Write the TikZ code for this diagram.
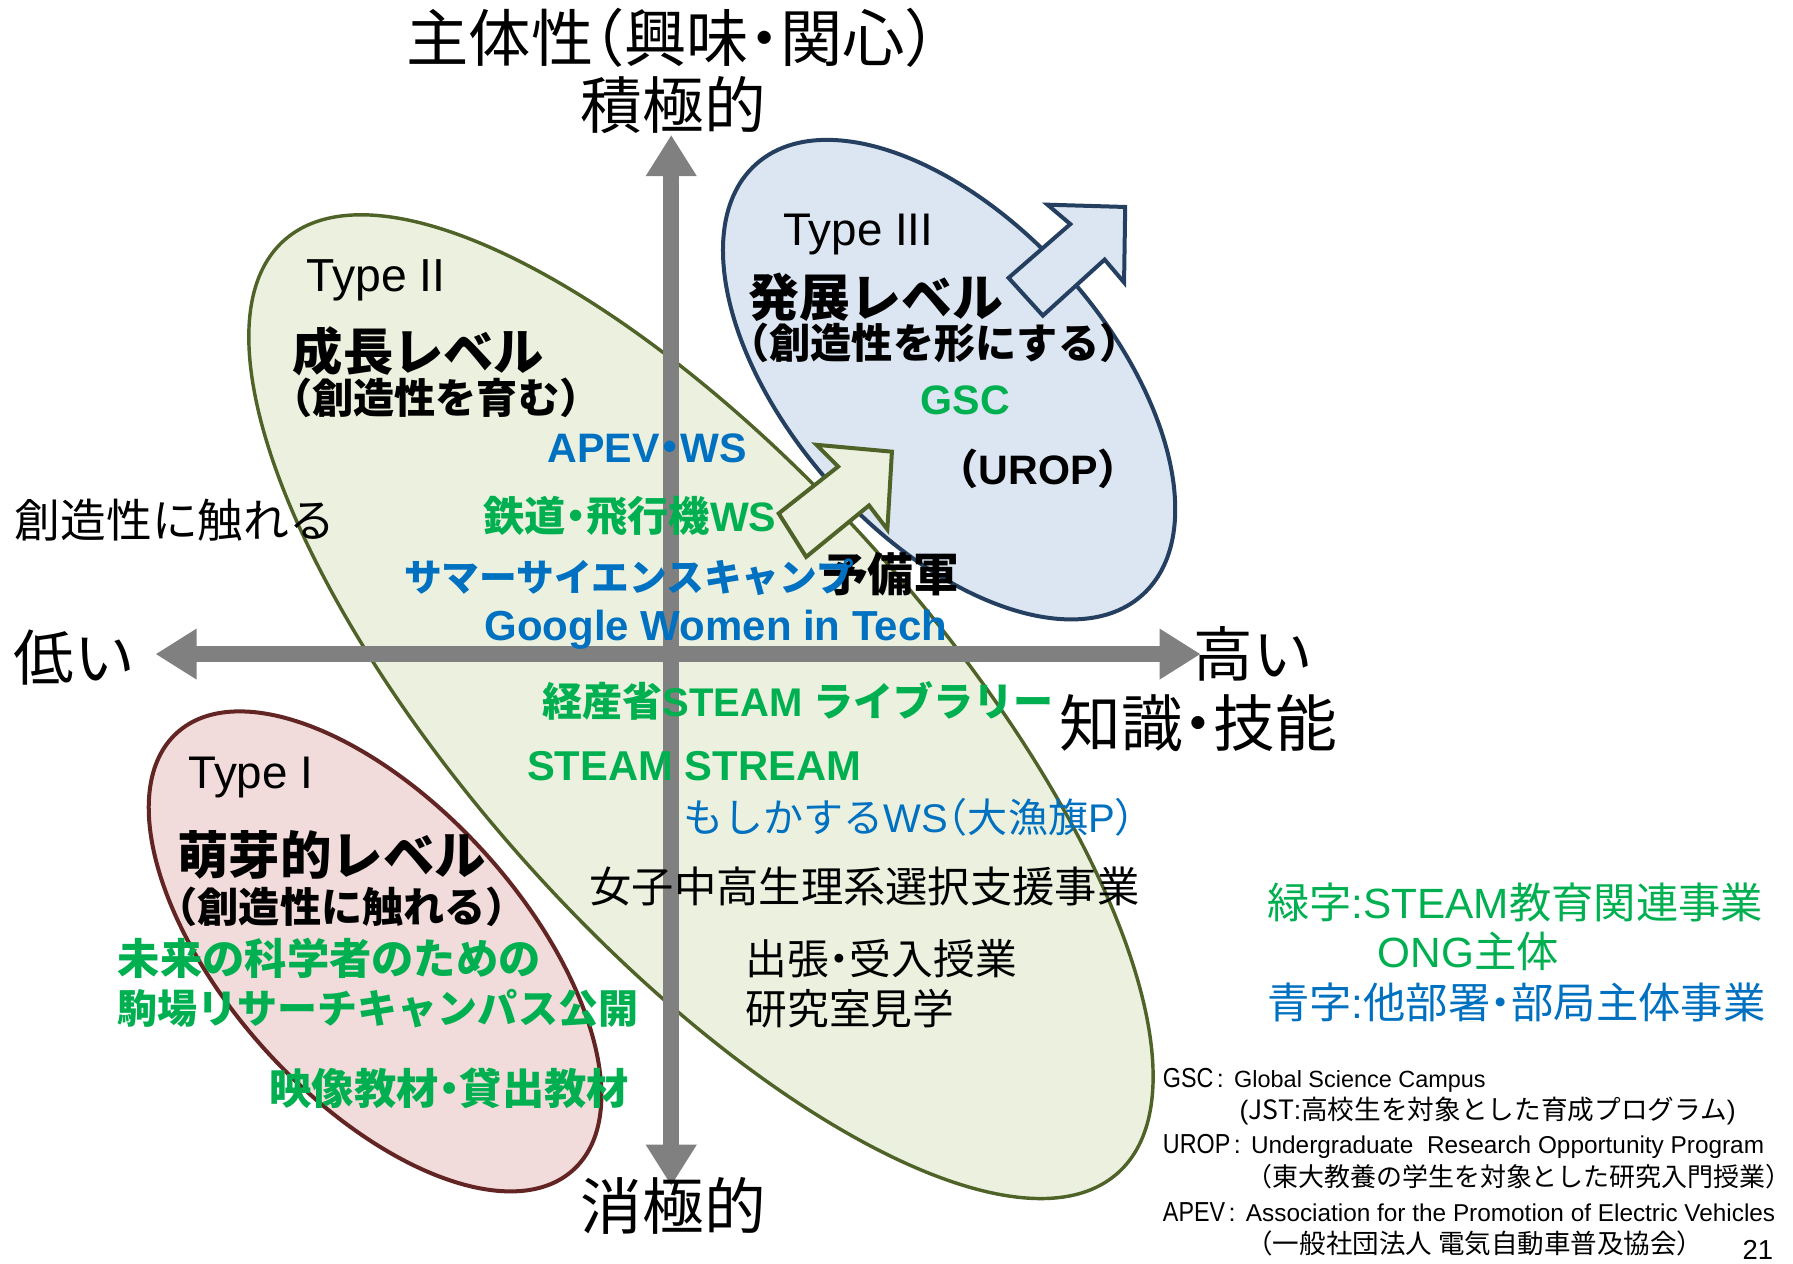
\documentclass[tikz,border=0pt]{standalone}
\usepackage{fontspec}
\usepackage{graphicx}
\usetikzlibrary{arrows.meta}
\setmainfont{Liberation Sans}
\newfontfamily\jp{Noto Sans CJK JP}[RawFeature={+halt}]
\newfontfamily\jpf{Noto Sans CJK JP}
\newcommand{\fsz}[1]{\fontsize{#1pt}{#1pt}\selectfont}
\newcommand{\nar}[1]{\scalebox{0.85}[1]{#1}}
\definecolor{gfill}{HTML}{EBF1DE}
\definecolor{gline}{HTML}{4F6228}
\definecolor{pfill}{HTML}{F2DCDB}
\definecolor{pline}{HTML}{632523}
\definecolor{bfill}{HTML}{DCE6F2}
\definecolor{bline}{HTML}{243F60}
\definecolor{axisgray}{HTML}{808080}
\definecolor{tgreen}{HTML}{00B050}
\definecolor{tblue}{HTML}{0070C0}
\begin{document}
\begin{tikzpicture}[x=1pt,y=-1pt,
  txt/.style={inner sep=0pt,outer sep=0pt},
  gtxt/.style={txt,text=tgreen},
  btxt/.style={txt,text=tblue},
  gell/.style={draw=gline,fill=gfill,line width=3pt},
  pell/.style={draw=pline,fill=pfill,line width=3.5pt},
  bell/.style={draw=bline,fill=bfill,line width=3.5pt},
  axisarrow/.style={draw=axisgray,line width=14pt,{Triangle[length=36pt,width=42pt]}-{Triangle[length=36pt,width=42pt]}},
  garrow/.style={draw=gline,fill=gfill,line width=3.5pt,line join=miter},
  barrow/.style={draw=bline,fill=bfill,line width=3.5pt,line join=miter}]
\fill[white] (0,0) rectangle (1568,1105);
\useasboundingbox (0,0) rectangle (1568,1105);
% ellipses
\path[gell, rotate around={-48.2:(613,618)}] (613,618) ellipse [x radius=547, y radius=205];
\path[pell, rotate around={-47.8:(328,832)}] (328,832) ellipse [x radius=258, y radius=129];
\path[bell, rotate around={-48.1:(830,332)}] (830,332) ellipse [x radius=253, y radius=138];
% axes
\coordinate (vtop) at (587,118);
\coordinate (vbot) at (587,1037);
\coordinate (hl) at (136,572);
\coordinate (hr) at (1050,572);
\draw[axisarrow] (vbot) -- (vtop);
\draw[axisarrow] (hl) -- (hr);
% block arrows
\path[garrow] (681,449) -- (733,408) -- (714,389) -- (780,395) -- (776,463) -- (760,442) -- (705,487) -- cycle;
\path[barrow] (882,243) -- (936,196) -- (916,179) -- (984,181) -- (983,247) -- (966,227) -- (912,276) -- cycle;
% axis labels
\node[txt] (title) at (587,33) {\jp\fsz{54.5}主体性（興味・関心）};
\node[txt] (pos) at (589,92) {\jp\fsz{54}積極的};
\node[txt] (neg) at (589,1055) {\jp\fsz{54}消極的};
\node[txt] (low) at (65,575) {\jp\fsz{53}低い};
\node[txt] (high) at (1096,572) {\jp\fsz{52}高い};
\node[txt] (know) at (1048,632) {\jp\fsz{54}知識・技能};
\node[txt] (touch) at (153,455) {\jp\fsz{40}創造性に触れる};
% Type II
\node[txt,anchor=west] (ty2) at (268,245) {\fsz{40.5}Type II};
\node[txt,anchor=west] (lv2) at (256,307) {\jp\bfseries\fsz{44}成長レベル};
\node[txt,anchor=west] (sub2) at (255,348) {\jp\bfseries\fsz{36}（創造性を育む）};
% Type III
\node[txt,anchor=west] (ty3) at (685,205) {\fsz{40}Type III};
\node[txt,anchor=west] (lv3) at (655,260) {\jp\bfseries\fsz{44.5}発展レベル};
\node[txt,anchor=west] (sub3) at (655,300) {\jp\bfseries\fsz{36}（創造性を形にする）};
\node[gtxt] (gsc) at (844,350) {\bfseries\fsz{36}GSC};
\node[txt] (urop) at (908,410) {\fsz{36}{\jp\bfseries（}\textbf{UROP}{\jp\bfseries）}};
% Type I
\node[txt,anchor=west] (ty1) at (165,680) {\fsz{40}Type I};
\node[txt,anchor=west] (lv1) at (155,748) {\jp\bfseries\fsz{45}萌芽的レベル};
\node[txt,anchor=west] (sub1) at (155,793) {\jp\bfseries\fsz{36}（創造性に触れる）};
\node[gtxt,anchor=west] (m1) at (103,838) {\jp\bfseries\fsz{37}未来の科学者のための};
\node[gtxt,anchor=west] (m2) at (103,882) {\jp\bfseries\fsz{35}駒場リサーチキャンパス公開};
\node[gtxt] (m3) at (393,952) {\jp\bfseries\fsz{37}映像教材・貸出教材};
% Type II contents
\node[btxt] (apev) at (566,392) {\bfseries\fsz{36}APEV{\jp・}WS};
\node[gtxt] (rail) at (551,451) {\bfseries\fsz{36}{\jp 鉄道・飛行機}WS};
\node[txt] (yobi) at (779,502) {\jp\bfseries\fsz{40}予備軍};
\node[btxt] (summer) at (550,505) {\jp\bfseries\fsz{33}サマーサイエンスキャンプ};
\node[btxt] (google) at (626,551) {\bfseries\fsz{36.7}Google Women in Tech};
\node[gtxt] (meti) at (698,613) {\bfseries\fsz{35}{\jp 経産省}STEAM {\jp ライブラリー}};
\node[gtxt] (stream) at (607,670) {\bfseries\fsz{36.5}STEAM STREAM};
\node[btxt] (moshi) at (795,715) {\fsz{35}{\jp もしかする}WS{\jp （大漁旗}P{\jp ）}};
\node[txt] (joshi) at (756,775) {\jp\fsz{37}女子中高生理系選択支援事業};
\node[txt,anchor=west] (shutcho) at (652,838) {\jp\fsz{36.5}出張・受入授業};
\node[txt,anchor=west] (kengaku) at (652,882) {\jp\fsz{36.5}研究室見学};
% legend
\node[gtxt,anchor=west] (leg1) at (1108,789) {\fsz{37}{\jp 緑字}:STEAM{\jp 教育関連事業}};
\node[gtxt,anchor=west] (leg2) at (1205,832) {\fsz{37}ONG{\jp 主体}};
\node[btxt,anchor=west] (leg3) at (1108,877) {\fsz{37}{\jp 青字}:{\jp 他部署・部局主体事業}};
% footnotes
\node[txt,anchor=base west] (f1) at (1017,951) {\nar{\fsz{24}GSC}\hspace{3pt}\fsz{22}:\hspace{9pt}\fsz{20.5}Global Science Campus};
\node[txt,anchor=base west] (f2) at (1084,979) {\fsz{23.3}({\jpf JST}:{\jpf 高校生を対象とした育成プログラム})};
\node[txt,anchor=base west] (f3) at (1017,1009) {\nar{\fsz{24}UROP}\hspace{3pt}\fsz{22}:\hspace{9pt}\fsz{21.3}Undergraduate\ \ Research Opportunity Program};
\node[txt,anchor=base west] (f4) at (1090,1038) {\jpf\fsz{22.7}（東大教養の学生を対象とした研究入門授業）};
\node[txt,anchor=base west] (f5) at (1017,1068) {\nar{\fsz{24}APEV}\hspace{3pt}\fsz{22}:\hspace{9pt}\fsz{21.3}Association for the Promotion of Electric Vehicles};
\node[txt,anchor=base west] (f6) at (1090,1096) {\jpf\fsz{23.2}（一般社団法人 電気自動車普及協会）};
\node[txt,anchor=base west] (pg) at (1524,1101) {\fsz{24}21};
\end{tikzpicture}
\end{document}
